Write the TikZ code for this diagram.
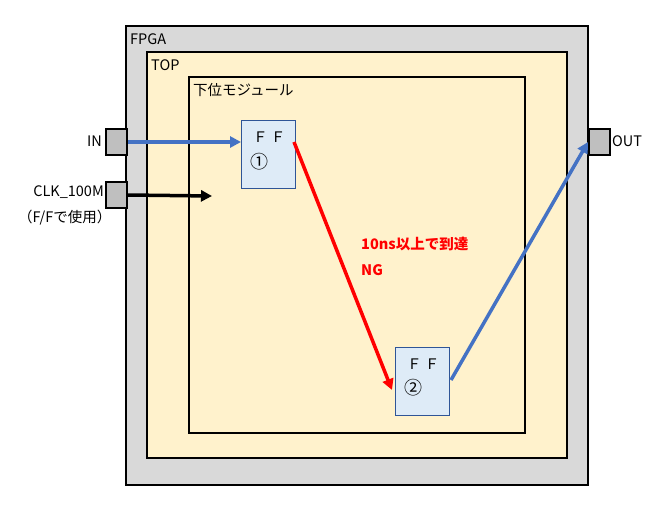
\documentclass[tikz,border=0pt]{standalone}
\usepackage{fontspec}
\setmainfont{Noto Sans CJK JP}
\usetikzlibrary{arrows.meta}
\definecolor{fpgagray}{HTML}{D9D9D9}
\definecolor{portgray}{HTML}{BFBFBF}
\definecolor{topfill}{HTML}{FFF2CC}
\definecolor{fffill}{HTML}{DEEBF7}
\definecolor{ffdraw}{HTML}{2F5597}
\definecolor{sigblue}{HTML}{4472C4}
\tikzset{
  blk/.style={draw=black, line width=2pt},
  port/.style={draw=black, line width=2pt, fill=portgray, minimum width=21pt, minimum height=26pt, inner sep=0pt, anchor=north west},
  ffbox/.style={draw=ffdraw, line width=1pt, fill=fffill, minimum width=54pt, minimum height=68pt, inner sep=0pt, anchor=north west},
  lbl/.style={font=\fontsize{14.5}{17}\selectfont, inner sep=0pt},
  numlbl/.style={font=\fontsize{18}{20}\selectfont, inner sep=0pt, anchor=west},
  rlbl/.style={font=\fontsize{14.5}{17}\selectfont\bfseries, inner sep=0pt, text=red, anchor=west},
  sig/.style={line width=3.5pt, -{Triangle[length=11pt,width=11pt]}},
}
\begin{document}
\begin{tikzpicture}[x=1pt,y=-1pt]
\useasboundingbox (0,0) rectangle (652,511);
% FPGA
\draw[blk, fill=fpgagray] (126,26) rectangle (588,485);
\node[lbl, anchor=west] (fpgalbl) at (130,39) {FPGA};
% TOP
\draw[blk, fill=topfill] (147,52) rectangle (567,458);
\node[lbl, anchor=west] (toplbl) at (151,65) {TOP};
% sub module
\draw[blk] (189,77) rectangle (525,433);
\node[lbl, anchor=west] (sublbl) at (193,90) {下位モジュール};
% ports
\node[port] (inport) at (105,128) {};
\node[port] (clkport) at (105,181) {};
\node[port] (outport) at (588,128) {};
\node[lbl, anchor=east] (inlbl) at (102,141) {IN};
\node[lbl, anchor=east] (clklbl) at (104,192) {CLK\_100M};
\node[lbl, anchor=west] (clkuse) at (18,218) {（F/Fで使用）};
\node[lbl, anchor=west] (outlbl) at (612,141) {OUT};
% FFs
\node[ffbox] (ff1) at (241,120) {};
\node[lbl, anchor=west] (ff1a) at (253,137) {Ｆ Ｆ};
\node[numlbl] (ff1b) at (250,162) {①};
\node[ffbox] (ff2) at (395,347) {};
\node[lbl, anchor=west] (ff2a) at (407,364) {Ｆ Ｆ};
\node[numlbl] (ff2b) at (404,388) {②};
% signals
\coordinate (clkend) at (212,196);
\coordinate (redstart) at (294,142);
\coordinate (redend) at (392,390);
\coordinate (bluestart) at (451,380);
\draw[sig, draw=sigblue] (inport.east) -- (ff1.west |- inport.east);
\draw[sig, draw=black] (clkport.east) -- (clkend);
\draw[sig, draw=red] (redstart) -- (redend);
\draw[sig, draw=sigblue] (bluestart) -- (outport.west);
% red label
\node[rlbl] (lat1) at (361,244) {10ns以上で到達};
\node[rlbl] (lat2) at (361,270) {NG};
\end{tikzpicture}
\end{document}
